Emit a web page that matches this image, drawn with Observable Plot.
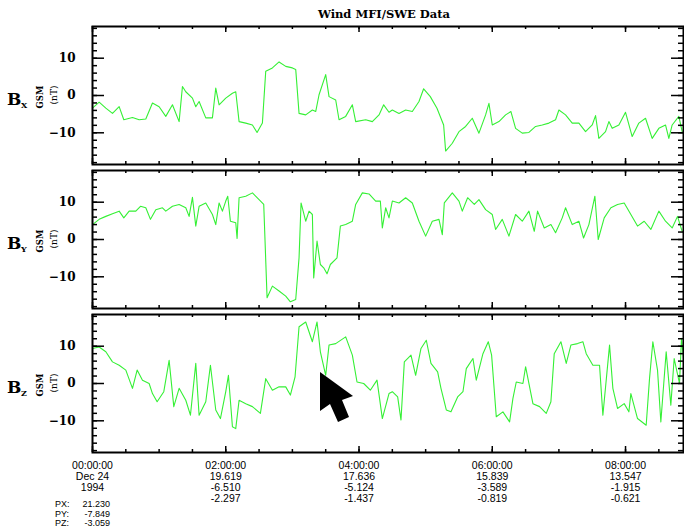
<!DOCTYPE html>
<html><head><meta charset="utf-8">
<script src="https://cdn.jsdelivr.net/npm/d3@7"></script>
<script src="https://cdn.jsdelivr.net/npm/@observablehq/plot@0.6"></script>
<style>
body{margin:0;background:#fff;}
#wrap{position:relative;width:684px;height:529px;overflow:hidden;background:#fff;}
#wrap > svg, #wrap > figure{position:absolute;left:0;margin:0;}
</style></head><body>
<div id="wrap"></div>
<script>
// ---- data (hours since 1994-12-24 00:00 UT, nT GSM) ----
const bxT = [0,.1,.2,.3,.4,.47,.6,.7,.8,.9,1.0,1.1,1.2,1.3,1.35,1.4,1.5,1.55,1.6,1.7,1.8,1.85,1.9,2.0,2.1,2.15,2.2,2.3,2.4,2.47,2.55,2.6,2.7,2.8,2.9,3.0,3.05,3.1,3.2,3.3,3.35,3.4,3.5,3.55,3.65,3.7,3.8,3.9,3.95,4.1,4.2,4.3,4.37,4.45,
 4.5,4.6,4.7,4.8,4.9,4.97,5.07,5.17,5.27,5.3,5.4,5.5,5.6,5.7,5.8,5.9,5.95,6.0,6.1,6.2,6.28,6.35,6.45,6.55,6.65,6.75,6.85,6.95,7.0,7.1,7.2,7.3,7.4,7.5,7.55,7.6,7.7,7.75,7.8,7.9,8.0,8.1,8.2,8.3,8.4,8.5,8.6,8.65,8.7,8.8,8.85];
const bxV = [-3.4,-1.8,-3.4,-4.8,-3,-6.5,-5.9,-6.5,-6.3,-2,-3,-5.6,-2.5,-7,2.4,1,-0.7,-3,-1.6,-6,-6,2,-2.5,-0.7,0.6,1,-7,-7.4,-7.9,-9.9,-7.4,6.5,7.4,9,7.8,7.4,7,-4.8,-5.2,-3.9,-4.3,0.2,5.6,-0.3,-1.2,-6.5,-5.6,-2.5,-7,-6.5,-7,-5.2,-2.5,-4.5,
 -3.9,-4.8,-3.9,-4.3,-1.6,1.8,-0.3,-3.4,-7.9,-14.9,-12.8,-9.7,-8.3,-6.1,-10.1,-5.2,-2.1,-7.9,-7,-5.2,-4.3,-8.8,-10.1,-9.9,-8.3,-7.9,-7.4,-6.5,-3.9,-5.2,-7.4,-7.4,-9.7,-7.9,-5.4,-11.5,-9.7,-7,-8.8,-7.9,-4.5,-11,-7.4,-6.1,-11.5,-8.8,-7.9,-11.5,-7.9,-5.6,-9.7];
const byT = [0,.1,.2,.3,.4,.47,.55,.65,.72,.8,.87,.95,1.05,1.1,1.2,1.3,1.4,1.45,1.5,1.55,1.6,1.7,1.8,1.85,1.9,1.95,2.0,2.03,2.07,2.15,2.17,2.2,2.3,2.4,2.5,2.57,2.62,2.7,2.8,2.9,2.97,3.05,3.1,3.13,3.2,3.25,3.3,3.32,3.37,3.42,3.47,3.52,3.57,3.67,3.72,3.8,3.9,3.95,4.05,4.15,4.25,4.32,4.35,4.4,4.45,
 4.5,4.6,4.7,4.8,4.9,5.0,5.1,5.2,5.25,5.28,5.4,5.5,5.55,5.63,5.73,5.8,5.9,6.0,6.05,6.15,6.25,6.35,6.45,6.55,6.63,6.68,6.78,6.88,6.95,7.05,7.1,7.2,7.3,7.37,7.45,7.54,7.59,7.68,7.78,7.88,7.98,8.08,8.18,8.28,8.38,8.5,8.6,8.7,8.78,8.85];
const byV = [4,5.4,6.2,6.9,7.6,5.8,7.6,7.6,8.9,8.5,5.4,8,8.5,7.6,8.9,9.4,8.5,6.2,11.3,3.6,8.9,9.8,6.7,4,9.8,7.6,10.3,11.6,4.9,4.5,0.3,11.2,11.6,12.5,10.7,9.4,-15.6,-12.5,-13.8,-15.2,-16.7,-16.1,-4.9,9.8,4.9,7.6,6.7,-10.3,-0.4,-6.7,-7.6,-9.2,-6.7,-4.9,3.6,4,4.9,9.4,12.5,12.2,10.3,10.3,3.1,8.5,5.8,
 10.3,9.8,11.2,9.8,4.9,0.9,4.9,5.4,1.3,9.8,12.5,10.3,7.6,11.2,9.4,10.7,8,6.7,2.7,5.4,0.9,6.7,4.9,7.6,2.2,7.6,3.1,4,1.8,5.8,8.5,4,4.9,0.4,4,11.6,0,5.8,8.5,9.4,9.8,6.7,3.6,4.9,2.7,7.6,4.9,3.1,6.2,2.2];
const bzT = [0,.1,.2,.3,.4,.5,.6,.67,.75,.85,.9,.97,1.07,1.15,1.22,1.3,1.4,1.47,1.55,1.6,1.7,1.77,1.85,1.92,2.0,2.04,2.1,2.15,2.2,2.3,2.4,2.52,2.6,2.7,2.8,2.9,2.97,3.04,3.1,3.2,3.3,3.37,3.42,3.5,3.55,3.65,3.8,3.9,3.97,4.07,4.17,4.27,4.35,4.45,
 4.5,4.58,4.63,4.68,4.78,4.85,4.93,5.01,5.08,5.18,5.23,5.31,5.38,5.48,5.56,5.61,5.71,5.76,5.86,5.94,5.99,6.06,6.16,6.26,6.31,6.36,6.46,6.5,6.56,6.61,6.71,6.81,6.88,6.93,7.03,7.11,7.18,7.28,7.36,7.41,7.51,7.61,7.66,7.76,7.81,7.88,7.98,8.05,8.08,8.18,8.31,8.36,8.41,8.48,8.53,8.61,8.68,8.73,8.81,8.84,8.88];
const bzV = [9.4,9.8,8.5,5.8,4.9,3.6,-1.3,3.6,0.9,0,-2.7,-4.9,-2.2,6.2,-6.2,-1.3,-4.5,-8.5,5.4,-8.5,-4.9,4.9,-7.1,-9.4,-2.2,2.2,-11.6,-12.1,-4.5,-5.4,-6.2,-8,1.3,-1.8,-0.9,-0.9,-3.1,1.8,15.2,16.5,11.2,16.5,8.5,2.2,10.3,10.7,12.5,7.6,0.4,0,-1.8,0.9,-9.4,-2.7,
 -2.2,-3.6,-9.8,5.8,7.6,2.2,9.4,11.6,5.4,3.1,-1.3,-7.1,-7.6,-3.6,-2.2,4,6.7,0.9,8,11.2,7.6,-8.9,-7.6,-10.3,-4,0.4,0,4.5,-0.9,-5.4,-6.2,-8,-4.9,8,11.2,5.4,10.3,10.7,11.2,8,4.9,4.9,-8.5,10.3,-1.3,-6.7,-5.4,-7.6,-2.7,-9.4,-11.2,1.3,11.2,3.6,-10.3,8.5,-5.8,6.7,0,12.1,4.9];

const xTicks = [0,2,4,6,8];
const timeLabels = ["00:00:00","02:00:00","04:00:00","06:00:00","08:00:00"];
const pxLabels = ["Dec 24","19.619","17.636","15.839","13.547"];
const pyLabels = ["1994","-6.510","-5.124","-3.589","-1.915"];
const pzLabels = ["","-2.297","-1.437","-0.819","-0.621"];
const yTicks = [-10,0,10];
const panelNames = ["X","Y","Z"];
const title = "Wind MFI/SWE Data";
const pos0 = ["PX:","PY:","PZ:"], pos0v = ["21.230","-7.849","-3.059"];

const wrap = document.getElementById("wrap");
const green = "#35f035";
const X0 = 92, X1 = 683, PH = 138;
const tops = [26,170,314];
const series = [[bxT,bxV],[byT,byV],[bzT,bzV]];
const minorY = d3.range(-18,19,2), minorX = d3.range(0,9,0.5);

series.forEach(([T,V],i)=>{
  const data = T.map((t,k)=>({t, v:V[k]}));
  const last = i===2;
  const mt = 2, mb = last ? 70 : 2;
  const W = X1-X0;
  const fig = Plot.plot({
    width:684, height:PH+mt+mb,
    marginLeft:X0, marginRight:684-X1, marginTop:mt, marginBottom:mb,
    x:{domain:[0,8.87], axis:null},
    y:{domain:[-18.5,18.5], axis:null},
    style:{background:"transparent", overflow:"visible"},
    marks:[
      Plot.line(data,{x:"t",y:"v",stroke:green,strokeWidth:1.1,clip:true}),
      Plot.tickY(minorY,{y:d=>d,stroke:"black",strokeWidth:1.5,insetRight:W-5}),
      Plot.tickY(yTicks,{y:d=>d,stroke:"black",strokeWidth:1.5,insetRight:W-12}),
      Plot.tickY(minorY,{y:d=>d,stroke:"black",strokeWidth:1.5,insetLeft:W-5}),
      Plot.tickY(yTicks,{y:d=>d,stroke:"black",strokeWidth:1.5,insetLeft:W-12}),
      Plot.tickX(minorX,{x:d=>d,stroke:"black",strokeWidth:1.5,insetBottom:PH-3}),
      Plot.tickX(xTicks,{x:d=>d,stroke:"black",strokeWidth:1.5,insetBottom:PH-6}),
      Plot.tickX(minorX,{x:d=>d,stroke:"black",strokeWidth:1.5,insetTop:PH-3}),
      Plot.tickX(xTicks,{x:d=>d,stroke:"black",strokeWidth:1.5,insetTop:PH-6}),
      Plot.frame({stroke:"black",strokeWidth:2}),
      Plot.axisY({ticks:yTicks,tickSize:0,tickPadding:17,label:null,fontFamily:"DejaVu Serif",fontWeight:"bold",fontSize:12,textStroke:"none"}),
      ...(last ? [Plot.axisX({ticks:xTicks,tickSize:0,tickPadding:9,label:null,lineAnchor:"top",fontFamily:"Liberation Sans",fontSize:10.5,lineHeight:1.05,
        tickFormat:(d,k)=>[timeLabels[k],pxLabels[k],pyLabels[k],pzLabels[k]].filter(s=>s).join("\n")})] : [])
    ]
  });
  fig.style.top = (tops[i]-mt)+"px";
  fig.setAttribute("overflow","visible");
  wrap.appendChild(fig);
});

// overlay: title, panel labels, cursor arrow
const ov = d3.select(wrap).append("svg").attr("width",684).attr("height",529)
  .style("position","absolute").style("left",0).style("top",0);
ov.append("text").attr("x",384).attr("y",18).attr("text-anchor","middle")
  .attr("font-family","DejaVu Serif").attr("font-weight","bold").attr("font-size",11.5).text(title);
tops.forEach((tp,i)=>{
  const cy = tp+PH/2;
  const g = ov.append("g").attr("font-family","DejaVu Serif").attr("font-weight","bold");
  g.append("text").attr("x",7).attr("y",cy+10).attr("font-size",17).text("B");
  g.append("text").attr("x",21).attr("y",cy+13).attr("font-size",8).text(panelNames[i]);
  g.append("text").attr("transform",`translate(43,${cy+2}) rotate(-90)`).attr("text-anchor","middle").attr("font-size",8.5).text("GSM");
  g.append("text").attr("transform",`translate(57,${cy}) rotate(-90)`).attr("text-anchor","middle").attr("font-size",9).attr("font-weight","normal").text("(nT)");
});
ov.append("path").attr("d","M320,372 L320,411 L330,404 L338,422 L349,417 L342,400 L353,396 Z").attr("fill","black");
const pg = ov.append("g").attr("font-family","Liberation Sans").attr("font-size",9);
pos0.forEach((p,k)=>{
  pg.append("text").attr("x",55).attr("y",507+k*9.5).text(p);
  pg.append("text").attr("x",110).attr("y",507+k*9.5).attr("text-anchor","end").text(pos0v[k]);
});
</script>
</body></html>
